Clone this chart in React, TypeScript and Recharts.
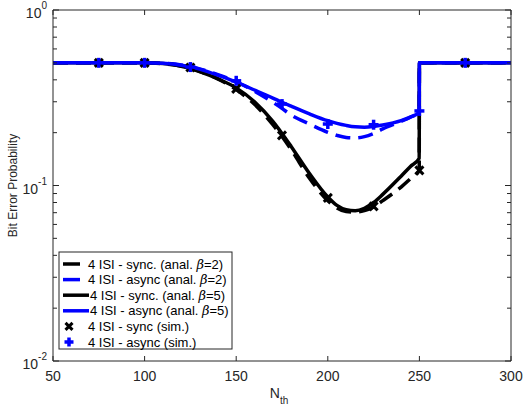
import React from 'react';
import { ComposedChart, Line, Scatter, XAxis, YAxis, Customized } from 'recharts';

// threshold N_th sample points for the analytical curves
const nth = [50, 75, 100, 110, 120, 125, 130, 140, 150, 160, 170, 175, 180, 190, 200, 205, 210, 215, 220, 225, 230, 240, 245, 249.9, 250, 275, 300];

const syncBeta2 = [0.5, 0.5, 0.5, 0.494, 0.48, 0.465, 0.447, 0.405, 0.352, 0.29, 0.222, 0.19, 0.16, 0.11, 0.082, 0.0745, 0.071, 0.0705, 0.072, 0.0755, 0.082, 0.098, 0.109, 0.122, 0.5, 0.5, 0.5];
const asyncBeta2 = [0.5, 0.5, 0.5, 0.497, 0.486, 0.475, 0.462, 0.428, 0.39, 0.345, 0.298, 0.275, 0.252, 0.224, 0.201, 0.193, 0.188, 0.187, 0.19, 0.198, 0.21, 0.232, 0.245, 0.262, 0.5, 0.5, 0.5];
const syncBeta5 = [0.5, 0.5, 0.5, 0.495, 0.478, 0.463, 0.445, 0.405, 0.36, 0.3, 0.232, 0.198, 0.167, 0.117, 0.086, 0.077, 0.0728, 0.0718, 0.0742, 0.08, 0.089, 0.113, 0.128, 0.143, 0.5, 0.5, 0.5];
const asyncBeta5 = [0.5, 0.5, 0.5, 0.497, 0.485, 0.474, 0.46, 0.425, 0.388, 0.35, 0.315, 0.298, 0.283, 0.256, 0.234, 0.226, 0.22, 0.216, 0.215, 0.217, 0.221, 0.234, 0.245, 0.262, 0.5, 0.5, 0.5];

// simulation points
const simN = [75, 100, 125, 150, 175, 200, 225, 250, 275];
const simSync = [0.5, 0.5, 0.47, 0.355, 0.193, 0.085, 0.076, 0.122, 0.5];
const simAsync = [0.5, 0.5, 0.473, 0.395, 0.291, 0.224, 0.222, 0.266, 0.5];

const xTicks = [50, 100, 150, 200, 250, 300];
const yTicks = [0.01, 0.02, 0.03, 0.04, 0.05, 0.06, 0.07, 0.08, 0.09, 0.1, 0.2, 0.3, 0.4, 0.5, 0.6, 0.7, 0.8, 0.9, 1];
const yMajor = [0.01, 0.1, 1];
const yExponents = ['-2', '-1', '0'];

const legendLabels = [
  '4 ISI - sync. (anal. β=2)',
  '4 ISI - async (anal. β=2)',
  '4 ISI - sync. (anal. β=5)',
  '4 ISI - async (anal. β=5)',
  '4 ISI - sync (sim.)',
  '4 ISI - async (sim.)',
];

const BLACK = '#000000';
const BLUE = '#0000ff';
const AXIS = '#262626';
const FONT = '"Liberation Sans", Arial, Helvetica, sans-serif';
const DASH = '15 8';

const rows = nth.map((x, i) => ({
  x,
  syncBeta2: syncBeta2[i],
  asyncBeta2: asyncBeta2[i],
  syncBeta5: syncBeta5[i],
  asyncBeta5: asyncBeta5[i],
}));
const simRows = simN.map((x, i) => ({ x, sync: simSync[i], async: simAsync[i] }));

const W = 525;
const H = 409;
const LEFT = 53;
const RIGHT = 511;
const TOP = 10;
const BOTTOM = 361;

function XMark({ cx, cy, s = 4 }: any) {
  if (cx == null || cy == null) return null;
  return (
    <g stroke={BLACK} strokeWidth={3} strokeLinecap="butt">
      <line x1={cx - s} y1={cy - s} x2={cx + s} y2={cy + s} />
      <line x1={cx - s} y1={cy + s} x2={cx + s} y2={cy - s} />
    </g>
  );
}

function PlusMark({ cx, cy, s = 5 }: any) {
  if (cx == null || cy == null) return null;
  return (
    <g stroke={BLUE} strokeWidth={3.5}>
      <line x1={cx - s} y1={cy} x2={cx + s} y2={cy} />
      <line x1={cx} y1={cy - s} x2={cx} y2={cy + s} />
    </g>
  );
}

function LeftTick({ x, y, payload }: any) {
  const idx = yMajor.indexOf(payload.value);
  const major = idx >= 0;
  return (
    <g>
      <line x1={x} x2={x + (major ? 6 : 4)} y1={y} y2={y} stroke={AXIS} />
      {major && (
        <text x={x - 6} y={y + 8} textAnchor="end" fontFamily={FONT} fontSize={14} fill={AXIS}>
          10
          <tspan dy={-9} fontSize={10}>{yExponents[idx]}</tspan>
        </text>
      )}
    </g>
  );
}

function RightTick({ x, y, payload }: any) {
  const major = yMajor.indexOf(payload.value) >= 0;
  return <line x1={x} x2={x - (major ? 6 : 4)} y1={y} y2={y} stroke={AXIS} />;
}

function BottomTick({ x, y, payload }: any) {
  return (
    <g>
      <line x1={x} x2={x} y1={y} y2={y - 5} stroke={AXIS} />
      <text x={x} y={y + 20} textAnchor="middle" fontFamily={FONT} fontSize={14} fill={AXIS}>
        {payload.value}
      </text>
    </g>
  );
}

function TopTick({ x, y }: any) {
  return <line x1={x} x2={x} y1={y} y2={y + 5} stroke={AXIS} />;
}

function LegendLabel({ text, x, y }: any) {
  const [a, b] = text.split('β');
  return (
    <text x={x} y={y} fontFamily={FONT} fontSize={13} fill={BLACK}>
      {a}
      {b !== undefined && <tspan fontStyle="italic" fontFamily='"DejaVu Serif", serif'>β</tspan>}
      {b}
    </text>
  );
}

function Overlay() {
  const lx = 59;
  const ly = 252;
  const rowH = 15.6;
  const styles = [
    { color: BLACK, dash: true },
    { color: BLUE, dash: true },
    { color: BLACK, dash: false },
    { color: BLUE, dash: false },
    { mark: 'x' },
    { mark: '+' },
  ];
  return (
    <g>
      <text
        transform={`translate(17, ${(TOP + BOTTOM) / 2}) rotate(-90)`}
        textAnchor="middle"
        fontFamily={FONT}
        fontSize={12}
        fill={AXIS}
      >
        Bit Error Probability
      </text>
      <text x={(LEFT + RIGHT) / 2 - 3} y={398} textAnchor="middle" fontFamily={FONT} fontSize={14} fill={AXIS}>
        N
        <tspan dy={6} fontSize={10}>th</tspan>
      </text>
      <rect x={lx} y={ly} width={173} height={97} fill="#ffffff" stroke={AXIS} strokeWidth={1} />
      {legendLabels.map((label, i) => {
        const cy = ly + 12 + i * rowH;
        const st: any = styles[i];
        return (
          <g key={label}>
            {st.mark === 'x' && <XMark cx={69} cy={cy} s={3.5} />}
            {st.mark === '+' && <PlusMark cx={69} cy={cy} s={4.5} />}
            {!st.mark && (
              <line
                x1={63}
                x2={89}
                y1={cy}
                y2={cy}
                stroke={st.color}
                strokeWidth={3.5}
                strokeDasharray={st.dash ? '17 30' : undefined}
              />
            )}
            <LegendLabel text={label} x={i >= 2 && i <= 3 ? 90 : 88} y={cy + 4.5} />
          </g>
        );
      })}
    </g>
  );
}

export default function App() {
  return (
    <div style={{ position: 'absolute', left: 0, top: 0, width: W, height: H, background: '#fff' }}>
      <ComposedChart width={W} height={H} data={rows} margin={{ top: 0, right: 0, bottom: 0, left: 0 }}>
        <XAxis
          xAxisId="b"
          dataKey="x"
          type="number"
          domain={[50, 300]}
          ticks={xTicks}
          allowDataOverflow
          height={H - BOTTOM}
          tickSize={0}
          tickMargin={0}
          tickLine={false}
          interval={0}
          axisLine={{ stroke: AXIS }}
          tick={<BottomTick />}
        />
        <XAxis
          xAxisId="t"
          orientation="top"
          dataKey="x"
          type="number"
          domain={[50, 300]}
          ticks={xTicks}
          allowDataOverflow
          height={TOP}
          tickSize={0}
          tickMargin={0}
          tickLine={false}
          interval={0}
          axisLine={{ stroke: AXIS }}
          tick={<TopTick />}
        />
        <YAxis
          yAxisId="l"
          type="number"
          scale="log"
          domain={[0.01, 1]}
          ticks={yTicks}
          allowDataOverflow
          width={LEFT}
          tickSize={0}
          tickMargin={0}
          tickLine={false}
          interval={0}
          axisLine={{ stroke: AXIS }}
          tick={<LeftTick />}
        />
        <YAxis
          yAxisId="r"
          orientation="right"
          type="number"
          scale="log"
          domain={[0.01, 1]}
          ticks={yTicks}
          allowDataOverflow
          width={W - RIGHT}
          tickSize={0}
          tickMargin={0}
          tickLine={false}
          interval={0}
          axisLine={{ stroke: AXIS }}
          tick={<RightTick />}
        />
        <Line xAxisId="b" yAxisId="l" type="monotone" dataKey="syncBeta2" stroke={BLACK} strokeWidth={3.5} strokeDasharray={DASH} dot={false} isAnimationActive={false} />
        <Line xAxisId="b" yAxisId="l" type="monotone" dataKey="asyncBeta2" stroke={BLUE} strokeWidth={3.5} strokeDasharray={DASH} dot={false} isAnimationActive={false} />
        <Line xAxisId="b" yAxisId="l" type="monotone" dataKey="syncBeta5" stroke={BLACK} strokeWidth={3.5} dot={false} isAnimationActive={false} />
        <Line xAxisId="b" yAxisId="l" type="monotone" dataKey="asyncBeta5" stroke={BLUE} strokeWidth={3.5} dot={false} isAnimationActive={false} />
        <Scatter xAxisId="b" yAxisId="l" data={simRows} dataKey="sync" shape={(p: any) => <XMark cx={p.cx} cy={p.cy} />} isAnimationActive={false} />
        <Scatter xAxisId="b" yAxisId="l" data={simRows} dataKey="async" shape={(p: any) => <PlusMark cx={p.cx} cy={p.cy} />} isAnimationActive={false} />
        <Customized component={<Overlay />} />
      </ComposedChart>
    </div>
  );
}
